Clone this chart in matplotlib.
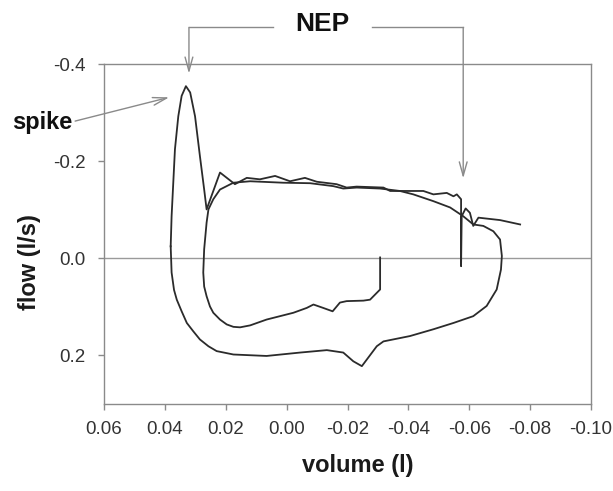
import numpy as np
import matplotlib
matplotlib.use("Agg")
import matplotlib.pyplot as plt

plt.rcParams["font.family"] = ["Liberation Sans", "DejaVu Sans"]
plt.rcParams["axes.unicode_minus"] = False

# Control breath: inspiration, smooth expiration, then inspiration back to start of NEP breath
control_vol = [-0.0307, -0.0307, -0.0274, -0.0252, -0.0197, -0.0175, -0.0151, -0.0120, -0.0088,
               -0.0066, -0.0022, 0.0066, 0.0120, 0.0153, 0.0175, 0.0197, 0.0219, 0.0241, 0.0252,
               0.0263, 0.0271, 0.0274, 0.0271, 0.0263, 0.0257,
               0.0241, 0.0219, 0.0175, 0.0120, 0.0011, -0.0077, -0.0153, -0.0186, -0.0230, -0.0307,
               -0.0372, -0.0416, -0.0482, -0.0537, -0.0580, -0.0613, -0.0646, -0.0679, -0.0701, -0.0707,
               -0.0704, -0.0690, -0.0657, -0.0613, -0.0548, -0.0482, -0.0405, -0.0318, -0.0296, -0.0247,
               -0.0219, -0.0186, -0.0132, -0.0044, 0.0066, 0.0175, 0.0230, 0.0257, 0.0285, 0.0307,
               0.0328, 0.0345, 0.0361, 0.0370, 0.0378, 0.0381]
control_flow = [-0.002, 0.064, 0.085, 0.087, 0.088, 0.091, 0.109, 0.102, 0.095,
                0.102, 0.112, 0.126, 0.138, 0.142, 0.141, 0.136, 0.126, 0.112, 0.099,
                0.078, 0.058, 0.029, -0.019, -0.074, -0.101,
                -0.122, -0.142, -0.156, -0.159, -0.156, -0.155, -0.149, -0.144, -0.146, -0.144,
                -0.139, -0.132, -0.118, -0.105, -0.087, -0.070, -0.067, -0.056, -0.039, -0.005,
                0.023, 0.064, 0.098, 0.119, 0.133, 0.146, 0.160, 0.171, 0.181, 0.222,
                0.212, 0.194, 0.189, 0.194, 0.201, 0.198, 0.191, 0.181, 0.167, 0.150,
                0.133, 0.109, 0.085, 0.065, 0.029, -0.025]

# Breath with negative expiratory pressure (spike, then NEP release)
nep_vol = [0.0381, 0.0378, 0.0367, 0.0356, 0.0345, 0.0331, 0.0317, 0.0301, 0.0285, 0.0271,
           0.0263, 0.0219, 0.0170, 0.0131, 0.0088, 0.0038, -0.0011, -0.0060, -0.0099, -0.0164,
           -0.0197, -0.0230, -0.0318, -0.0340, -0.0372, -0.0449, -0.0482, -0.0526, -0.0548, -0.0559,
           -0.0573, -0.0573, -0.0575, -0.0588, -0.0602, -0.0613, -0.0630, -0.0701, -0.0767]
nep_flow = [-0.025, -0.087, -0.225, -0.293, -0.335, -0.355, -0.342, -0.293, -0.211, -0.142,
            -0.101, -0.177, -0.153, -0.166, -0.163, -0.170, -0.159, -0.166, -0.158, -0.153,
            -0.146, -0.148, -0.146, -0.139, -0.139, -0.139, -0.132, -0.135, -0.128, -0.132,
            -0.122, 0.016, -0.087, -0.103, -0.094, -0.067, -0.084, -0.079, -0.070]

x_ticks = [0.06, 0.04, 0.02, 0.00, -0.02, -0.04, -0.06, -0.08, -0.10]
y_ticks = [-0.4, -0.2, 0.0, 0.2]

fig = plt.figure(figsize=(6.13, 4.91), dpi=100)
ax = fig.add_axes([0.1697, 0.1772, 0.7945, 0.6918])

line_col = "#2b2b2b"
grey = "#8a8a8a"

ax.axhline(0, color="#9a9a9a", lw=1.0, zorder=1)
ax.plot(control_vol, control_flow, color=line_col, lw=1.3, zorder=3, solid_joinstyle="round")
ax.plot(nep_vol, nep_flow, color=line_col, lw=1.3, zorder=3, solid_joinstyle="round")

ax.set_xlim(0.06, -0.10)
ax.set_ylim(0.3, -0.4)
ax.set_xticks(x_ticks)
ax.set_xticklabels([f"{v:.2f}" for v in x_ticks])
ax.set_yticks(y_ticks)
ax.set_yticklabels([f"{v:.1f}" for v in y_ticks])

for s in ax.spines.values():
    s.set_color(grey)
    s.set_linewidth(1.0)
ax.tick_params(direction="out", length=4, width=1, color=grey, labelsize=13.5,
               labelcolor="#333333")
ax.tick_params(axis="x", pad=8)
ax.tick_params(axis="y", pad=9)

ax.set_xlabel("volume (l)", fontsize=17, fontweight="bold", color="#1a1a1a", va="center")
ax.xaxis.set_label_coords(0.52, -0.18)
ax.set_ylabel("flow (l/s)", fontsize=17, fontweight="bold", color="#1a1a1a", va="center")
ax.yaxis.set_label_coords(-0.152, 0.417)

# NEP bracket with two arrows
bracket_y = -0.476
arrow_style = "->,head_length=1.0,head_width=0.28"
ax.plot([0.0321, 0.0046], [bracket_y, bracket_y], color=grey, lw=1.0, clip_on=False)
ax.plot([-0.0280, -0.0580], [bracket_y, bracket_y], color=grey, lw=1.0, clip_on=False)
ax.annotate("", xy=(0.0321, -0.381), xytext=(0.0321, bracket_y),
            arrowprops=dict(arrowstyle=arrow_style, color=grey, lw=1.0,
                            shrinkA=0, shrinkB=0), annotation_clip=False)
ax.annotate("", xy=(-0.0580, -0.165), xytext=(-0.0580, bracket_y),
            arrowprops=dict(arrowstyle=arrow_style, color=grey, lw=1.0,
                            shrinkA=0, shrinkB=0), annotation_clip=False)
ax.text(-0.0116, -0.484, "NEP", fontsize=19, fontweight="bold", color="#111111",
        ha="center", va="center", clip_on=False)

# spike label
ax.annotate("", xy=(0.0386, -0.332), xytext=(0.0695, -0.283),
            arrowprops=dict(arrowstyle=arrow_style, color=grey, lw=1.0,
                            shrinkA=0, shrinkB=0), annotation_clip=False)
ax.text(0.0705, -0.281, "spike", fontsize=17, fontweight="bold", color="#111111",
        ha="right", va="center", clip_on=False)

fig.savefig("out.png", dpi=100)
